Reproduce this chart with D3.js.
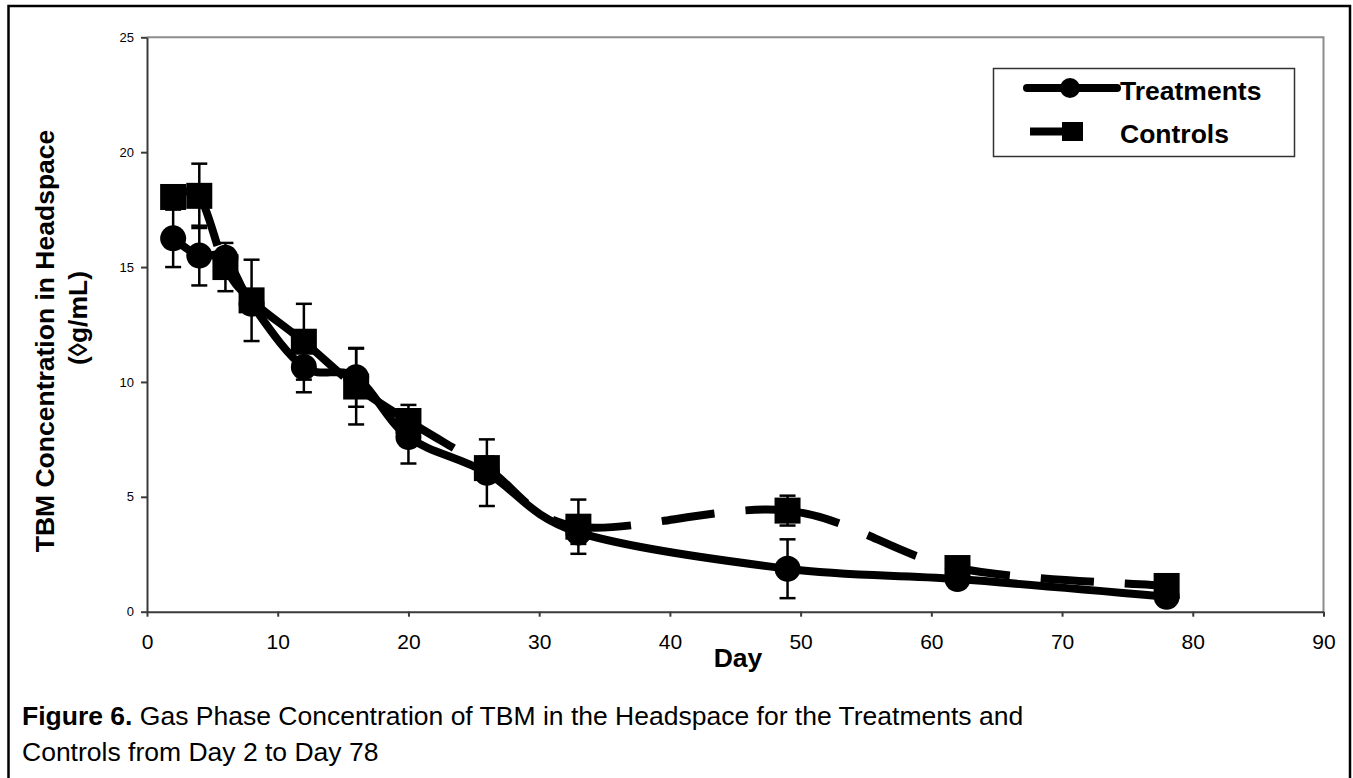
<!DOCTYPE html>
<html>
<head>
<meta charset="utf-8">
<script src="https://cdn.jsdelivr.net/npm/d3@7"></script>
<style>
  body { margin: 0; background: #fff; }
  text { font-family: Arial, "Liberation Sans", sans-serif; }
</style>
</head>
<body>
<script>
// values
const days = [2, 4, 6, 8, 12, 16, 20, 26, 33, 49, 62, 78];
const treatments = [16.25, 15.5, 15.4, 13.4, 10.65, 10.2, 7.6, 6.05, 3.45, 1.87, 1.42, 0.65];
const treatmentErr = [1.25, 1.3, 0.4, 0.4, 1.1, 1.28, 1.15, 1.45, 0.5, 1.28, 0.3, 0.3];
const controls = [18.05, 18.1, 15.0, 13.55, 11.75, 9.8, 8.3, 6.25, 3.7, 4.4, 1.9, 1.12];
const controlErr = [0.5, 1.4, 1.05, 1.77, 1.65, 1.65, 0.7, 0.5, 1.18, 0.65, 0.3, 0.3];
const xTicks = [0, 10, 20, 30, 40, 50, 60, 70, 80, 90];
const yTicks = [0, 5, 10, 15, 20, 25];
const seriesNames = ["Treatments", "Controls"];

const svg = d3.select("body")
    .append("svg")
    .attr("width", 1353)
    .attr("height", 778);

// outer frame of the figure
svg.append("rect")
    .attr("x", 8.5).attr("y", 6)
    .attr("width", 1341.5).attr("height", 820)
    .attr("fill", "none")
    .attr("stroke", "#000")
    .attr("stroke-width", 2.5);

const x = d3.scaleLinear().domain([0, 90]).range([147, 1323.5]);
const y = d3.scaleLinear().domain([0, 25]).range([611.7, 37.3]);

// plot area border (top + right)
svg.append("path")
    .attr("d", `M${x(0)},${y(25)}H${x(90)}V${y(0)}`)
    .attr("fill", "none")
    .attr("stroke", "#8c8c8c")
    .attr("stroke-width", 2);

// axes
const gx = svg.append("g")
    .attr("transform", `translate(0,${y(0)})`)
    .call(d3.axisBottom(x).tickValues(xTicks).tickSize(5).tickSizeOuter(0).tickPadding(17.7));
gx.selectAll("text").style("font-size", "21px").attr("fill", "#000");

const gy = svg.append("g")
    .attr("transform", `translate(${x(0)},0)`)
    .call(d3.axisLeft(y).tickValues(yTicks).tickSize(6).tickSizeOuter(0).tickPadding(7));
gy.selectAll("text").style("font-size", "13px").attr("fill", "#000");

svg.selectAll(".domain, .tick line")
    .attr("stroke", "#3a3a3a")
    .attr("stroke-width", 2);

// error bars
function errorBars(vals, errs) {
    const g = svg.append("g").attr("stroke", "#000").attr("stroke-width", 2.5);
    days.forEach((d, i) => {
        const cx = x(d);
        const top = y(vals[i] + errs[i]);
        const bot = y(vals[i] - errs[i]);
        g.append("line").attr("x1", cx).attr("x2", cx).attr("y1", top).attr("y2", bot);
        g.append("line").attr("x1", cx - 8).attr("x2", cx + 8).attr("y1", top).attr("y2", top);
        g.append("line").attr("x1", cx - 8).attr("x2", cx + 8).attr("y1", bot).attr("y2", bot);
    });
}
errorBars(treatments, treatmentErr);
errorBars(controls, controlErr);

const line = d3.line()
    .x(d => x(d[0]))
    .y(d => y(d[1]))
    .curve(d3.curveCardinal.tension(0));

// controls: smoothed, long dash restarting at every point (one path per segment)
const cpts = days.map((d, i) => [x(d), y(controls[i])]);
const k = 1 / 6;
for (let i = 0; i < cpts.length - 1; i++) {
    const p1 = cpts[i], p2 = cpts[i + 1];
    const p0 = cpts[i - 1] || p1;
    const p3 = cpts[i + 2] || p2;
    const p = d3.path();
    p.moveTo(p1[0], p1[1]);
    p.bezierCurveTo(
        p1[0] + k * (p2[0] - p0[0]), p1[1] + k * (p2[1] - p0[1]),
        p2[0] - k * (p3[0] - p1[0]), p2[1] - k * (p3[1] - p1[1]),
        p2[0], p2[1]);
    svg.append("path")
        .attr("d", p.toString())
        .attr("fill", "none")
        .attr("stroke", "#000")
        .attr("stroke-width", 8)
        .attr("stroke-dasharray", "53,31");
}

svg.selectAll("rect.ctrl")
    .data(days)
    .enter().append("rect")
    .attr("class", "ctrl")
    .attr("x", d => x(d) - 13)
    .attr("y", (d, i) => y(controls[i]) - 13)
    .attr("width", 26)
    .attr("height", 26)
    .attr("fill", "#000");

// treatments: solid line, circle markers
svg.append("path")
    .attr("d", line(days.map((d, i) => [d, treatments[i]])))
    .attr("fill", "none")
    .attr("stroke", "#000")
    .attr("stroke-width", 8)
    .attr("stroke-linejoin", "round");

svg.selectAll("circle.trt")
    .data(days)
    .enter().append("circle")
    .attr("class", "trt")
    .attr("cx", d => x(d))
    .attr("cy", (d, i) => y(treatments[i]))
    .attr("r", 13)
    .attr("fill", "#000");

// legend
const lg = svg.append("g");
lg.append("rect")
    .attr("x", 993.5).attr("y", 68.5)
    .attr("width", 301).attr("height", 88)
    .attr("fill", "#fff")
    .attr("stroke", "#333")
    .attr("stroke-width", 1.5);

lg.append("line")
    .attr("x1", 1027).attr("x2", 1117).attr("y1", 88).attr("y2", 88)
    .attr("stroke", "#000").attr("stroke-width", 8).attr("stroke-linecap", "round");
lg.append("circle").attr("cx", 1070).attr("cy", 88).attr("r", 10).attr("fill", "#000");

lg.append("line")
    .attr("x1", 1030).attr("x2", 1072).attr("y1", 131.5).attr("y2", 131.5)
    .attr("stroke", "#000").attr("stroke-width", 8);
lg.append("rect").attr("x", 1062).attr("y", 122).attr("width", 21).attr("height", 19).attr("fill", "#000");

lg.selectAll("text")
    .data(seriesNames)
    .enter().append("text")
    .attr("x", 1120)
    .attr("y", (d, i) => i === 0 ? 99.5 : 143)
    .style("font-size", "26.5px")
    .style("font-weight", "bold")
    .text(d => d);

// axis titles
svg.append("text")
    .attr("transform", "translate(53.5,341) rotate(-90)")
    .attr("text-anchor", "middle")
    .style("font-size", "26.5px")
    .style("font-weight", "bold")
    .text("TBM Concentration in Headspace");
svg.append("text")
    .attr("transform", "translate(86.5,318) rotate(-90)")
    .attr("text-anchor", "middle")
    .style("font-size", "26.5px")
    .style("font-weight", "bold")
    .text("(◊g/mL)");

svg.append("text")
    .attr("x", 738).attr("y", 667)
    .attr("text-anchor", "middle")
    .style("font-size", "26.5px")
    .style("font-weight", "bold")
    .text("Day");

// caption
const cap = svg.append("text")
    .attr("x", 22).attr("y", 725)
    .style("font-size", "26.5px");
cap.append("tspan").style("font-weight", "bold").text("Figure 6.");
cap.append("tspan").text(" Gas Phase Concentration of TBM in the Headspace for the Treatments and");
svg.append("text")
    .attr("x", 22).attr("y", 761)
    .style("font-size", "26.5px")
    .text("Controls from Day 2 to Day 78");
</script>
</body>
</html>
